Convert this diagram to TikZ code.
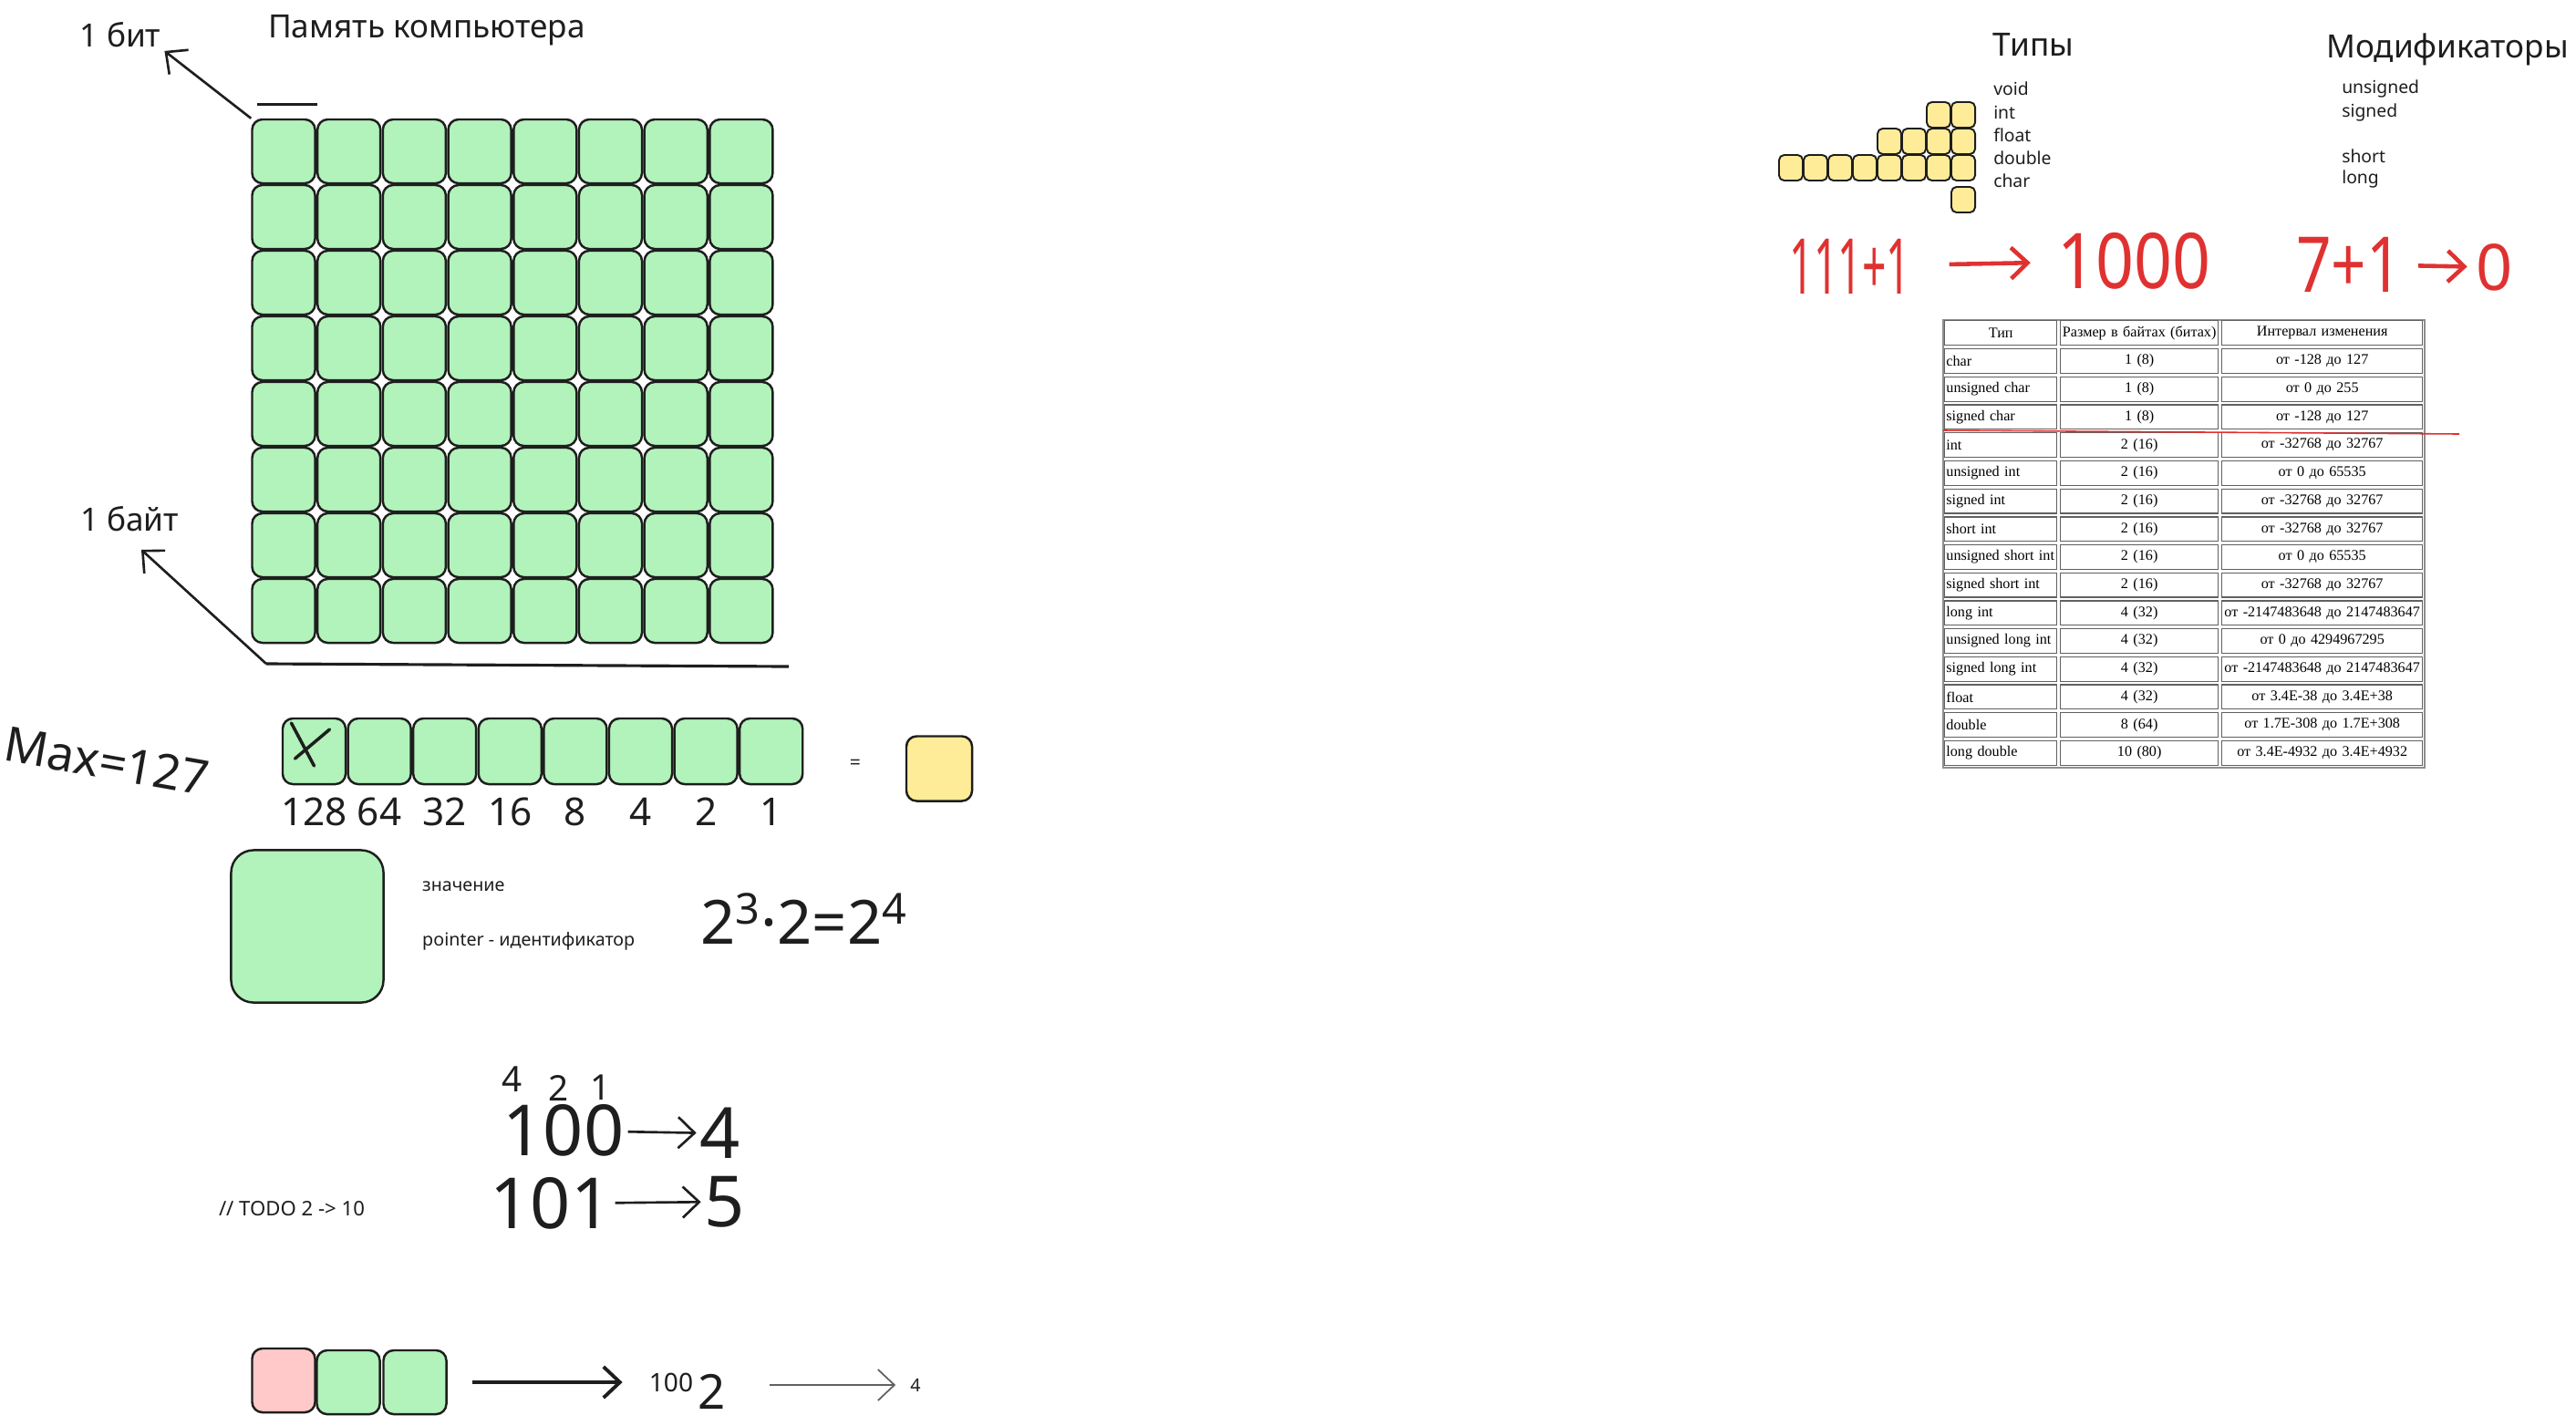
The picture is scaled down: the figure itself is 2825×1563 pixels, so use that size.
\documentclass[tikz,border=0pt]{standalone}
\usepackage{fontspec}
\setmainfont{Noto Sans}
\newfontfamily\tablefont{Liberation Serif}
\usetikzlibrary{arrows.meta,positioning,calc}
\definecolor{Ink}{HTML}{1E1E1E}
\definecolor{Mint}{HTML}{B2F2BB}
\definecolor{Butter}{HTML}{FFEC99}
\definecolor{Blush}{HTML}{FFC9C9}
\definecolor{Marker}{HTML}{E03131}
\newcommand\fsz[1]{\fontsize{#1}{#1}\selectfont}

\begin{document}
\begin{tikzpicture}[
    x=0.01cm,y=-0.01cm,
    cell/.style={draw=Ink,fill=Mint,line width=0.7pt,rounded corners=3.2pt,
      minimum width=0.69cm,minimum height=0.70cm,inner sep=0pt},
    tiny/.style={draw=Ink,fill=Butter,line width=0.55pt,rounded corners=1.6pt,
      minimum width=0.26cm,minimum height=0.28cm,inner sep=0pt},
    hand/.style={text=Ink,inner sep=1pt},
    note/.style={hand,font=\fsz{5.6pt},anchor=west},
    redhand/.style={text=Marker,font=\fsz{24pt},inner sep=1pt},
    arr/.style={-{Straight Barb[length=1.8mm,width=3.4mm]},line width=0.75pt,Ink},
    redarr/.style={arr,Marker,line width=1.3pt},
    tcell/.style={draw=Ink!70,line width=0.35pt,minimum height=0.267cm,
      inner ysep=0pt,inner xsep=0pt,align=center,anchor=west,
      font=\tablefont\fsz{4.6pt}}
  ]
    \path[use as bounding box,fill=white] (0,0) rectangle (2825,1563);

    % memory grid
    \node[hand,font=\fsz{10pt}] (title) at (468,33) {Память компьютера};
    \foreach \r in {1,...,8}
      \foreach \c in {1,...,8}
        \node[cell] (m-\r-\c) at ({311+71.7*(\c-1)},{166+72*(\r-1)}) {};
    \node[hand,font=\fsz{10pt}] (bit) at (132,38) {1 бит};
    \node[hand,font=\fsz{10pt}] (byte) at (142,569) {1 байт};
    \draw[Ink,line width=0.9pt] ($(m-1-1.north west)+(7,-15)$) -- ($(m-1-1.north east)+(1,-15)$);
    \draw[arr] (m-1-1.north west) -- (bit.south east);
    \coordinate (ulL) at (292,728);
    \coordinate (ulR) at (865,731);
    \draw[Ink,line width=0.9pt] (ulL) -- (ulR);
    \draw[arr] (ulL) -- ($(byte.south)+(13,16)$);

    % one byte
    \node[hand,font=\fsz{15pt},rotate=-10] (maxv) at (117,835) {Max=127};
    \foreach \w [count=\c] in {128,64,32,16,8,4,2,1} {
      \node[cell,minimum height=0.72cm] (b\c) at ({344.5+71.6*(\c-1)},824) {};
      \node[hand,font=\fsz{12pt}] (w\c) at ({344.5+71.6*(\c-1)},890) {\w};
    }
    \draw[Ink,line width=1pt,line cap=round]
      ($(b1.center)+(-25,-31)$) -- ($(b1.center)+(0,16)$)
      ($(b1.center)+(17,-24)$) -- ($(b1.center)+(-21,8)$);
    \node[hand,font=\fsz{6pt}] (eq) at (938,838) {=};
    \node[cell,fill=Butter,minimum width=0.72cm,minimum height=0.71cm] (byteval) at (1030,843) {};

    % variable
    \node[cell,minimum width=1.67cm,minimum height=1.67cm,rounded corners=7pt] (var) at (337,1016) {};
    \node[note] (val) at (459,972) {значение};
    \node[note] (ptr) at (459,1032) {pointer - идентификатор};
    \node[hand,font=\fsz{19pt}] (pow) at (882,1008) {2\textsuperscript{3}·2=2\textsuperscript{4}};

    % binary to decimal
    \node[hand,font=\fsz{11pt}] (p4) at (562,1184) {4};
    \node[hand,font=\fsz{11pt}] (p2) at (613,1193) {2};
    \node[hand,font=\fsz{11pt}] (p1) at (659,1193) {1};
    \node[hand,font=\fsz{22pt}] (b100) at (618,1240) {100};
    \node[hand,font=\fsz{22pt}] (d4) at (790,1243) {4};
    \node[hand,font=\fsz{22pt}] (b101) at (604,1320) {101};
    \node[hand,font=\fsz{22pt}] (d5) at (795,1318) {5};
    \draw[arr] (b100) -- (d4);
    \draw[arr] (b101) -- (d5);
    \node[hand,font=\fsz{6.3pt}] (todo) at (320,1326) {// TODO 2 -> 10};

    \node[cell,fill=Blush] (q1) at (311,1514) {};
    \node[cell] (q2) at (382,1516) {};
    \node[cell] (q3) at (455,1516) {};
    \node[hand,font=\fsz{8pt}] (bin) at (736,1516) {100};
    \node[hand,font=\bfseries\fsz{15pt}] (radix) at (781,1526) {2};
    \node[hand,font=\fsz{5.6pt}] (res) at (1004,1519) {4};
    \draw[arr,line width=1.1pt,shorten <=0.27cm,shorten >=0.25cm] (q3.east) -- (bin.west);
    \draw[arr,line width=0.5pt,Ink!70,shorten <=0.44cm,shorten >=0.12cm] (radix.east |- res.west) -- (res.west);

    % types
    \node[hand,font=\fsz{10pt}] (types) at (2230,49) {Типы};
    \node[hand,font=\fsz{10pt}] (mods) at (2684,54) {Модификаторы};
    \foreach \t/\y in {void/97,int/123,float/148,double/173,char/198}
      \node[note,font=\fsz{5.5pt}] (t-\t) at (2182,\y) {\t};
    \foreach \m/\y in {unsigned/97,signed/123,short/171,long/196}
      \node[note,font=\fsz{5.5pt}] (mod-\m) at (2564,\y) {\m};
    \foreach \n/\y [count=\k] in {2/126,4/155,8/184,1/219}
      \foreach \j in {1,...,\n}
        \node[tiny] (y\k-\j) at ({2153-27*(\j-1)},\y) {};

    % overflow
    \node[redhand] (sum) at (2029,292) {\scalebox{0.55}[1]{111+1}};
    \node[redhand] (ovf) at (2340,286) {\scalebox{0.87}[1]{1000}};
    \node[redhand] (seven) at (2576,290) {\scalebox{0.8}[1]{7+1}};
    \node[redhand,font=\fsz{20pt}] (wrap) at (2736,293) {0};
    \draw[redarr,shorten <=0.38cm,shorten >=0.25cm] (sum) -- (ovf);
    \draw[redarr,shorten <=0.14cm,shorten >=0.06cm] (seven) -- (wrap);

    % sizes table
    \node[draw=Ink!50,line width=0.5pt,minimum width=5.28cm,minimum height=4.91cm,
      anchor=north west,inner sep=0pt] (tbl) at (2130,350) {};
    \node[tcell,text width=1.23cm] (typ0) at (2132,365) {Тип};
    \node[tcell,text width=1.73cm] (size0) at (2259,365) {Размер в байтах (битах)};
    \node[tcell,text width=2.20cm] (range0) at (2436,365) {Интервал изменения};
    \foreach \ty/\sz/\rg [count=\i] in {
      char/1 (8)/от -128 до 127,
      unsigned char/1 (8)/от 0 до 255,
      signed char/1 (8)/от -128 до 127,
      int/2 (16)/от -32768 до 32767,
      unsigned int/2 (16)/от 0 до 65535,
      signed int/2 (16)/от -32768 до 32767,
      short int/2 (16)/от -32768 до 32767,
      unsigned short int/2 (16)/от 0 до 65535,
      signed short int/2 (16)/от -32768 до 32767,
      long int/4 (32)/от -2147483648 до 2147483647,
      unsigned long int/4 (32)/от 0 до 4294967295,
      signed long int/4 (32)/от -2147483648 до 2147483647,
      float/4 (32)/от 3.4E-38 до 3.4E+38,
      double/8 (64)/от 1.7E-308 до 1.7E+308,
      long double/10 (80)/от 3.4E-4932 до 3.4E+4932} {
      \node[tcell,text width=1.195cm,inner xsep=0.5pt,align=left] (typ\i) at (2132,{365.35+30.7*\i}) {\mbox{\ty}};
      \node[tcell,text width=1.73cm] (size\i) at (2259,{365.35+30.7*\i}) {\sz};
      \node[tcell,text width=2.20cm] (range\i) at (2436,{365.35+30.7*\i}) {\rg};
    }
    \draw[Marker,line width=0.45pt] (2131,472) -- (2697,476);
  \end{tikzpicture}
\end{document}
